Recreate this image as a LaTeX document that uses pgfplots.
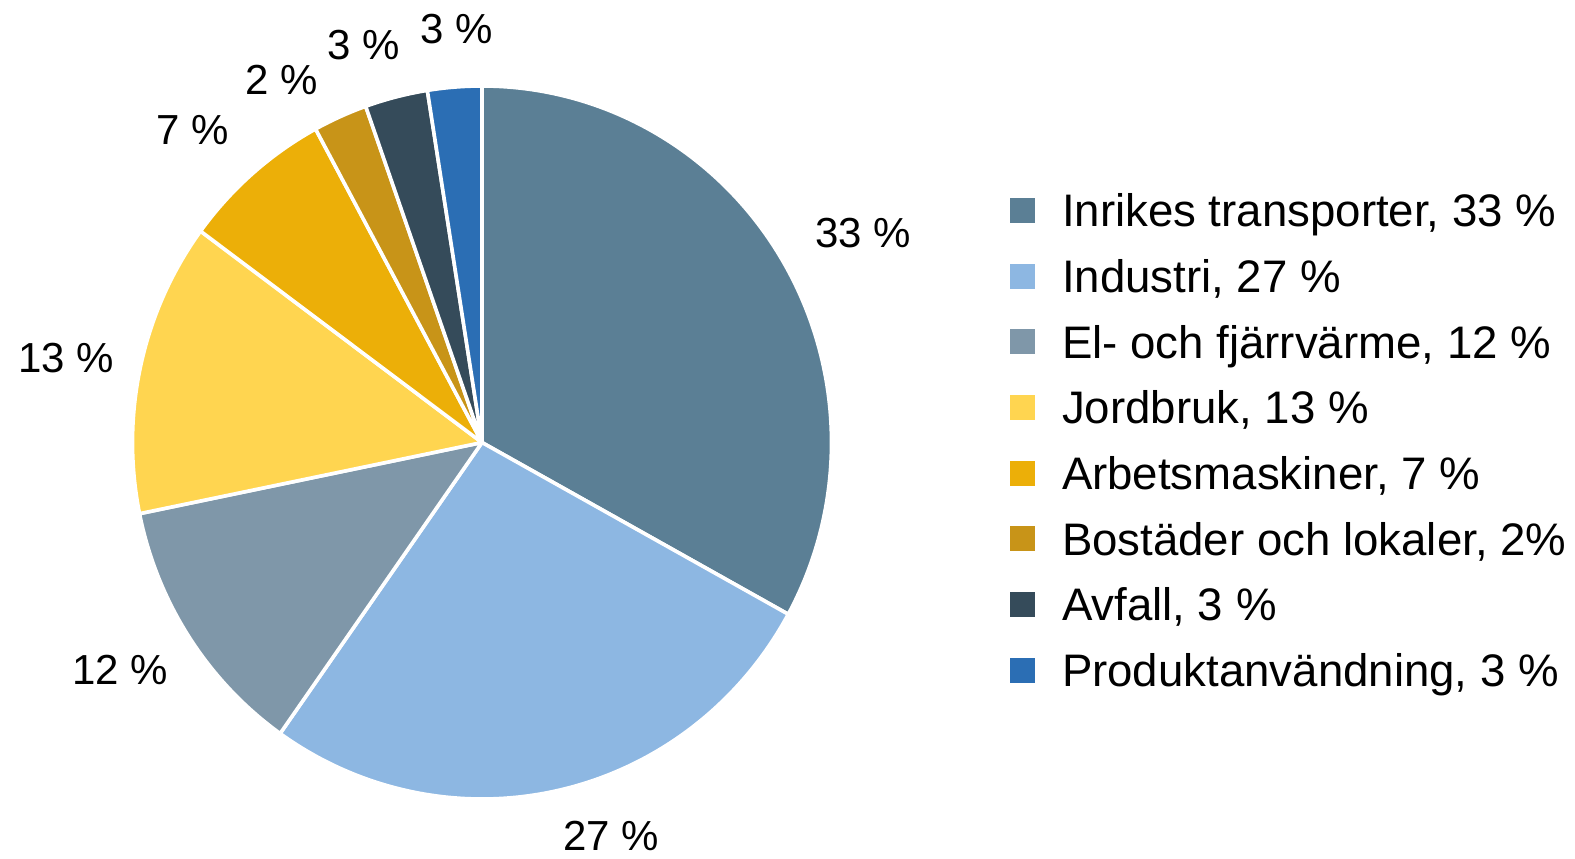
\documentclass[border=0pt]{standalone}
\usepackage{pgfplots}
\pgfplotsset{compat=1.18}
\usepackage{fontspec}
\setmainfont{Liberation Sans}
\definecolor{cA}{HTML}{5B7F95}
\definecolor{cB}{HTML}{8DB7E2}
\definecolor{cC}{HTML}{7F97A9}
\definecolor{cD}{HTML}{FFD550}
\definecolor{cE}{HTML}{ECAF08}
\definecolor{cF}{HTML}{C89418}
\definecolor{cG}{HTML}{354B5A}
\definecolor{cH}{HTML}{2B6EB4}
% shares in percent (clockwise from 12 o'clock)
\def\vA{33.0}% Inrikes transporter
\def\vB{26.8}% Industri
\def\vC{12.0}% El- och fjarrvarme
\def\vD{13.3}% Jordbruk
\def\vE{7.0}% Arbetsmaskiner
\def\vF{2.5}% Bostader och lokaler
\def\vG{2.9}% Avfall
\def\vH{2.5}% Produktanvandning
\pgfmathsetmacro\tA{90}
\pgfmathsetmacro\tB{\tA-3.6*\vA}
\pgfmathsetmacro\tC{\tB-3.6*\vB}
\pgfmathsetmacro\tD{\tC-3.6*\vC}
\pgfmathsetmacro\tE{\tD-3.6*\vD}
\pgfmathsetmacro\tF{\tE-3.6*\vE}
\pgfmathsetmacro\tG{\tF-3.6*\vF}
\pgfmathsetmacro\tH{\tG-3.6*\vG}
\pgfmathsetmacro\tI{\tH-3.6*\vH}
\newcommand{\slice}[4]{%
  \addplot[fill=#1, draw=white, line width=1.8pt, line join=round,
    variable=\t, domain=#3:#2, samples=120]
    ({482+349.5*cos(\t)},{415.5+356.5*sin(\t)}) -- (axis cs:482,415.5) -- cycle;
  \addlegendentry{#4}}
\begin{document}
\begin{tikzpicture}
\begin{axis}[
  scale only axis, width=787.5pt, height=429pt,
  xmin=0, xmax=1575, ymin=0, ymax=858,
  hide axis, clip=false,
  legend cell align=left,
  legend image code/.code={\fill[#1,draw=none] (0pt,-6.25pt) rectangle (12.5pt,6.25pt);},
  legend style={draw=none, fill=none, inner sep=0pt, outer sep=0pt,
    at={(0.64127,0.77366)}, anchor=north west,
    row sep=16.55pt, column sep=13.5pt,
    font=\fontsize{22.8}{26}\selectfont,
    nodes={inner sep=0pt, text height=16.3pt, text depth=0pt}},
]
\path (axis cs:0,0) rectangle (axis cs:1575,858);
\slice{cA}{\tA}{\tB}{Inrikes transporter, 33 \%}
\slice{cB}{\tB}{\tC}{Industri, 27 \%}
\slice{cC}{\tC}{\tD}{El- och fjärrvärme, 12 \%}
\slice{cD}{\tD}{\tE}{Jordbruk, 13 \%}
\slice{cE}{\tE}{\tF}{Arbetsmaskiner, 7 \%}
\slice{cF}{\tF}{\tG}{Bostäder och lokaler, 2\%}
\slice{cG}{\tG}{\tH}{Avfall, 3 \%}
\slice{cH}{\tH}{\tI}{Produktanvändning, 3 \%}
\begin{scope}[every node/.style={font=\fontsize{21}{25}\selectfont, inner sep=0pt}]
\node at (axis cs:863,624.5) {33 \%};
\node at (axis cs:611.5,22) {27 \%};
\node at (axis cs:120,188) {12 \%};
\node at (axis cs:66.5,500) {13 \%};
\node at (axis cs:192.5,728) {7 \%};
\node at (axis cs:281.5,778) {2 \%};
\node at (axis cs:364,813) {3 \%};
\node at (axis cs:457,828.5) {3 \%};
\end{scope}
\end{axis}
\end{tikzpicture}
\end{document}
